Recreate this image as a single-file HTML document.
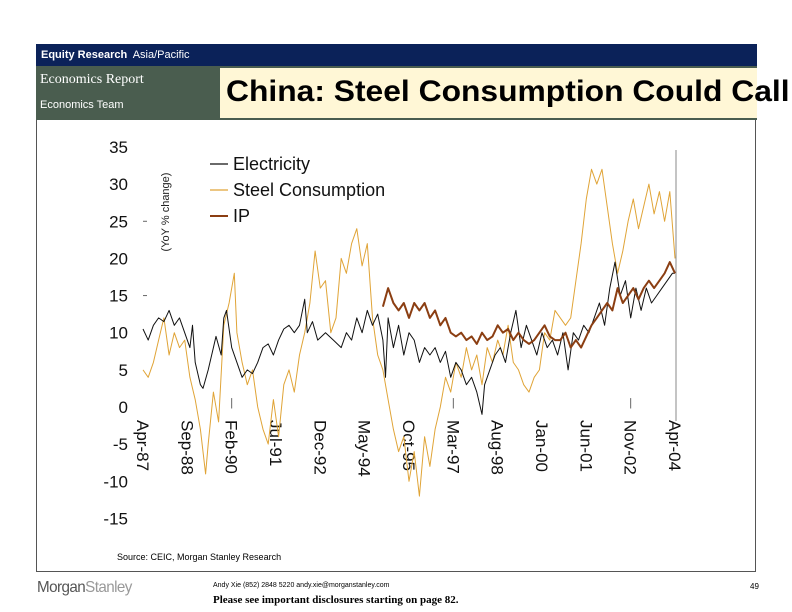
<!DOCTYPE html>
<html><head><meta charset="utf-8">
<style>
body{margin:0;width:792px;height:612px;background:#fff;position:relative;overflow:hidden;font-family:"Liberation Sans",Arial,sans-serif}
.abs{position:absolute}
</style></head><body>
<div class="abs" style="left:36px;top:44px;width:721px;height:22px;background:#0b2259"></div>
<div class="abs" style="left:41px;top:49px;color:#fff;font-size:11px"><b>Equity Research</b>&nbsp; Asia/Pacific</div>
<div class="abs" style="left:36px;top:66px;width:721px;height:54px;background:#4a5d4f"></div>
<div class="abs" style="left:40px;top:72px;color:#fff;font-family:'Liberation Serif',serif;font-size:14px">Economics Report</div>
<div class="abs" style="left:40px;top:99px;color:#fff;font-size:11px">Economics Team</div>
<div class="abs" style="left:220px;top:68px;width:537px;height:50px;background:#fff7d6"></div>
<div class="abs" style="left:226px;top:75px;font-size:30px;font-weight:bold;color:#000;white-space:nowrap;transform:scaleX(1.06);transform-origin:0 0">China: Steel Consumption Could Call</div>
<div class="abs" style="left:36px;top:120px;width:720px;height:452px;border-left:1px solid #555;border-right:1px solid #555;border-bottom:1px solid #555;box-sizing:border-box"></div>
<svg class="abs" style="left:0;top:0" width="792" height="612" id="chart"></svg>
<div class="abs" style="left:117px;top:552px;font-size:9px">Source: CEIC, Morgan Stanley Research</div>
<div class="abs" style="left:37px;top:579px;font-size:16px;color:#555;letter-spacing:-0.6px;transform:scaleX(0.95);transform-origin:0 0">Morgan<span style="color:#999">Stanley</span></div>
<div class="abs" style="left:213px;top:582px;font-size:7px">Andy Xie (852) 2848 5220 andy.xie@morganstanley.com</div>
<div class="abs" style="left:213px;top:594px;font-size:11px;font-weight:bold;font-family:'Liberation Serif',serif">Please see important disclosures starting on page 82.</div>
<div class="abs" style="left:750px;top:582px;font-size:8px">49</div>
<script>
const tickMonths=[0,17,34,51,68,85,102,119,136,153,170,187,204];
const tickLabels=["Apr-87","Sep-88","Feb-90","Jul-91","Dec-92","May-94","Oct-95","Mar-97","Aug-98","Jan-00","Jun-01","Nov-02","Apr-04"];
const yTicks=[35,30,25,20,15,10,5,0,-5,-10,-15];
const elecMonths=[0,2,4,6,8,10,12,14,16,18,19,20,22,23,25,27,28,30,31,32,34,36,38,40,42,44,46,48,50,52,54,56,58,60,62,63,65,67,70,73,76,78,80,82,84,86,88,90,92,93,94,96,98,100,102,104,106,108,110,112,114,116,118,120,122,124,126,128,130,131,133,135,137,139,141,143,145,147,149,151,153,155,157,159,161,163,165,167,169,171,173,175,177,179,181,183,185,187,189,191,193,195,197,199,201,203,204];
const elecValues=[10.5,9,11,12,11.5,13,11,12,10,8,11,6,3,2.5,5,8,9.5,7,12,13,8,6,4,5,4.5,6,8,8.5,7,9,10.5,11,10,11,14.5,10,11.5,9,10,9,8,10,9,12,10,13,11,12.5,9,4,12,8,11,7,10,9,6,8,7,8,6,7.5,4,6,5,3,4,2,-1,3,5,7,8,6,10,13,8,11,9,7,10,8,9,7,10,5,10,9,11,10,12,14,11,16,19.5,15,17,12,16,13,16,14,15,16,17,18,18];
const steelMonths=[0,2,4,6,8,10,12,14,16,18,20,22,24,25,27,29,31,33,35,36,38,40,42,44,46,48,50,52,54,56,58,60,62,64,66,68,70,72,74,76,78,80,82,84,86,88,90,92,94,96,98,100,102,104,106,108,110,112,114,116,118,120,122,124,126,128,130,132,134,136,138,140,142,144,146,148,150,152,154,156,158,160,162,164,166,168,170,172,174,176,178,180,182,184,186,188,190,192,194,196,198,200,202,204];
const steelValues=[5,4,6,9,12,7,10,8,9,4,1,-3,-9,-5,2,-2,11,14,18,10,6,3,5,0,-3,-5,1,-4,3,5,2,7,10,14,21,16,17,10,12,20,18,22,24,19,22,12,7,5,1,-3,-6,-4,-10,-6,-12,-4,-8,-3,0,4,2,6,4,8,5,7,3,8,6,9,7,11,6,5,3,2,4,5,10,9,13,12,11,12,17,22,28,32,30,32,27,22,18,21,25,28,24,27,30,26,29,25,29,20];
const ipMonths=[92,94,96,98,100,102,104,106,108,110,112,114,116,118,120,122,124,126,128,130,132,134,136,138,140,142,144,146,148,150,152,154,156,158,160,162,164,166,168,170,172,174,176,178,180,182,184,186,188,190,192,194,196,198,200,202,204];
const ipValues=[13.5,16,14,13,14,12,14,13,14,12,13,11,12,10,9.5,10,9,9.5,8.5,10,9,9.5,11,10,10.5,9,10,9,8.5,9,10,11,9.5,9,9,10,8,9,8,9.5,11,12,13,14,13,16,14,15,16,14.5,16,17,16,17,18,19.5,18];

const svg=document.getElementById('chart');const NS='http://www.w3.org/2000/svg';
const xS=m=>143+m*(532/204);
const yS=v=>407-v*(260/35);
function mk(tag,attrs,txt){const e=document.createElementNS(NS,tag);for(const k in attrs)e.setAttribute(k,attrs[k]);if(txt!==undefined)e.textContent=txt;svg.appendChild(e);return e;}
let e;
e=mk('line',{x1:676,y1:150,x2:676,y2:421,stroke:'#888','stroke-width':1});


yTicks.forEach(v=>{
  e=mk('text',{x:128,y:yS(v)+6,'text-anchor':'end','font-size':17,fill:'#111'},String(v));
  
  
});
[25,15].forEach(v=>{e=mk('line',{x1:143,x2:147,y1:yS(v),y2:yS(v),stroke:'#666'});
  
  });
[34,119,187].forEach(m=>{e=mk('line',{x1:xS(m),x2:xS(m),y1:yS(1.2),y2:yS(-0.2),stroke:'#666'});
  
  });
tickMonths.forEach((m,i)=>{
  const x=xS(m)-6;
  e=mk('text',{x:0,y:0,transform:`translate(${x},420) rotate(90)`,'font-size':17,fill:'#111'},tickLabels[i]);
  
  
});
e=mk('text',{x:0,y:0,transform:'translate(169,212) rotate(-90)','text-anchor':'middle','font-size':11,fill:'#222'},'(YoY % change)');


function series(ms,vs,color,w,name){
  const d=ms.map((m,i)=>(i?'L':'M')+xS(m).toFixed(1)+' '+yS(vs[i]).toFixed(1)).join(' ');
  const p=mk('path',{d:d,fill:'none',stroke:color,'stroke-width':w,'stroke-linejoin':'round'});
  
  
}
series(steelMonths,steelValues,'#e0a437',1,'steel-consumption-line');
series(elecMonths,elecValues,'#111',1,'electricity-line');
series(ipMonths,ipValues,'#8b3e12',2,'ip-line');
const legend=[['Electricity','#111'],['Steel Consumption','#e0a437'],['IP','#8b3e12']];
legend.forEach((l,i)=>{
  const y=164+i*26;
  e=mk('line',{x1:210,x2:228,y1:y,y2:y,stroke:l[1],'stroke-width':i==2?2:1.2});
  
  
  e=mk('text',{x:233,y:y+6,'font-size':18,fill:'#111'},l[0]);
  
  
});
</script>
</body></html>
